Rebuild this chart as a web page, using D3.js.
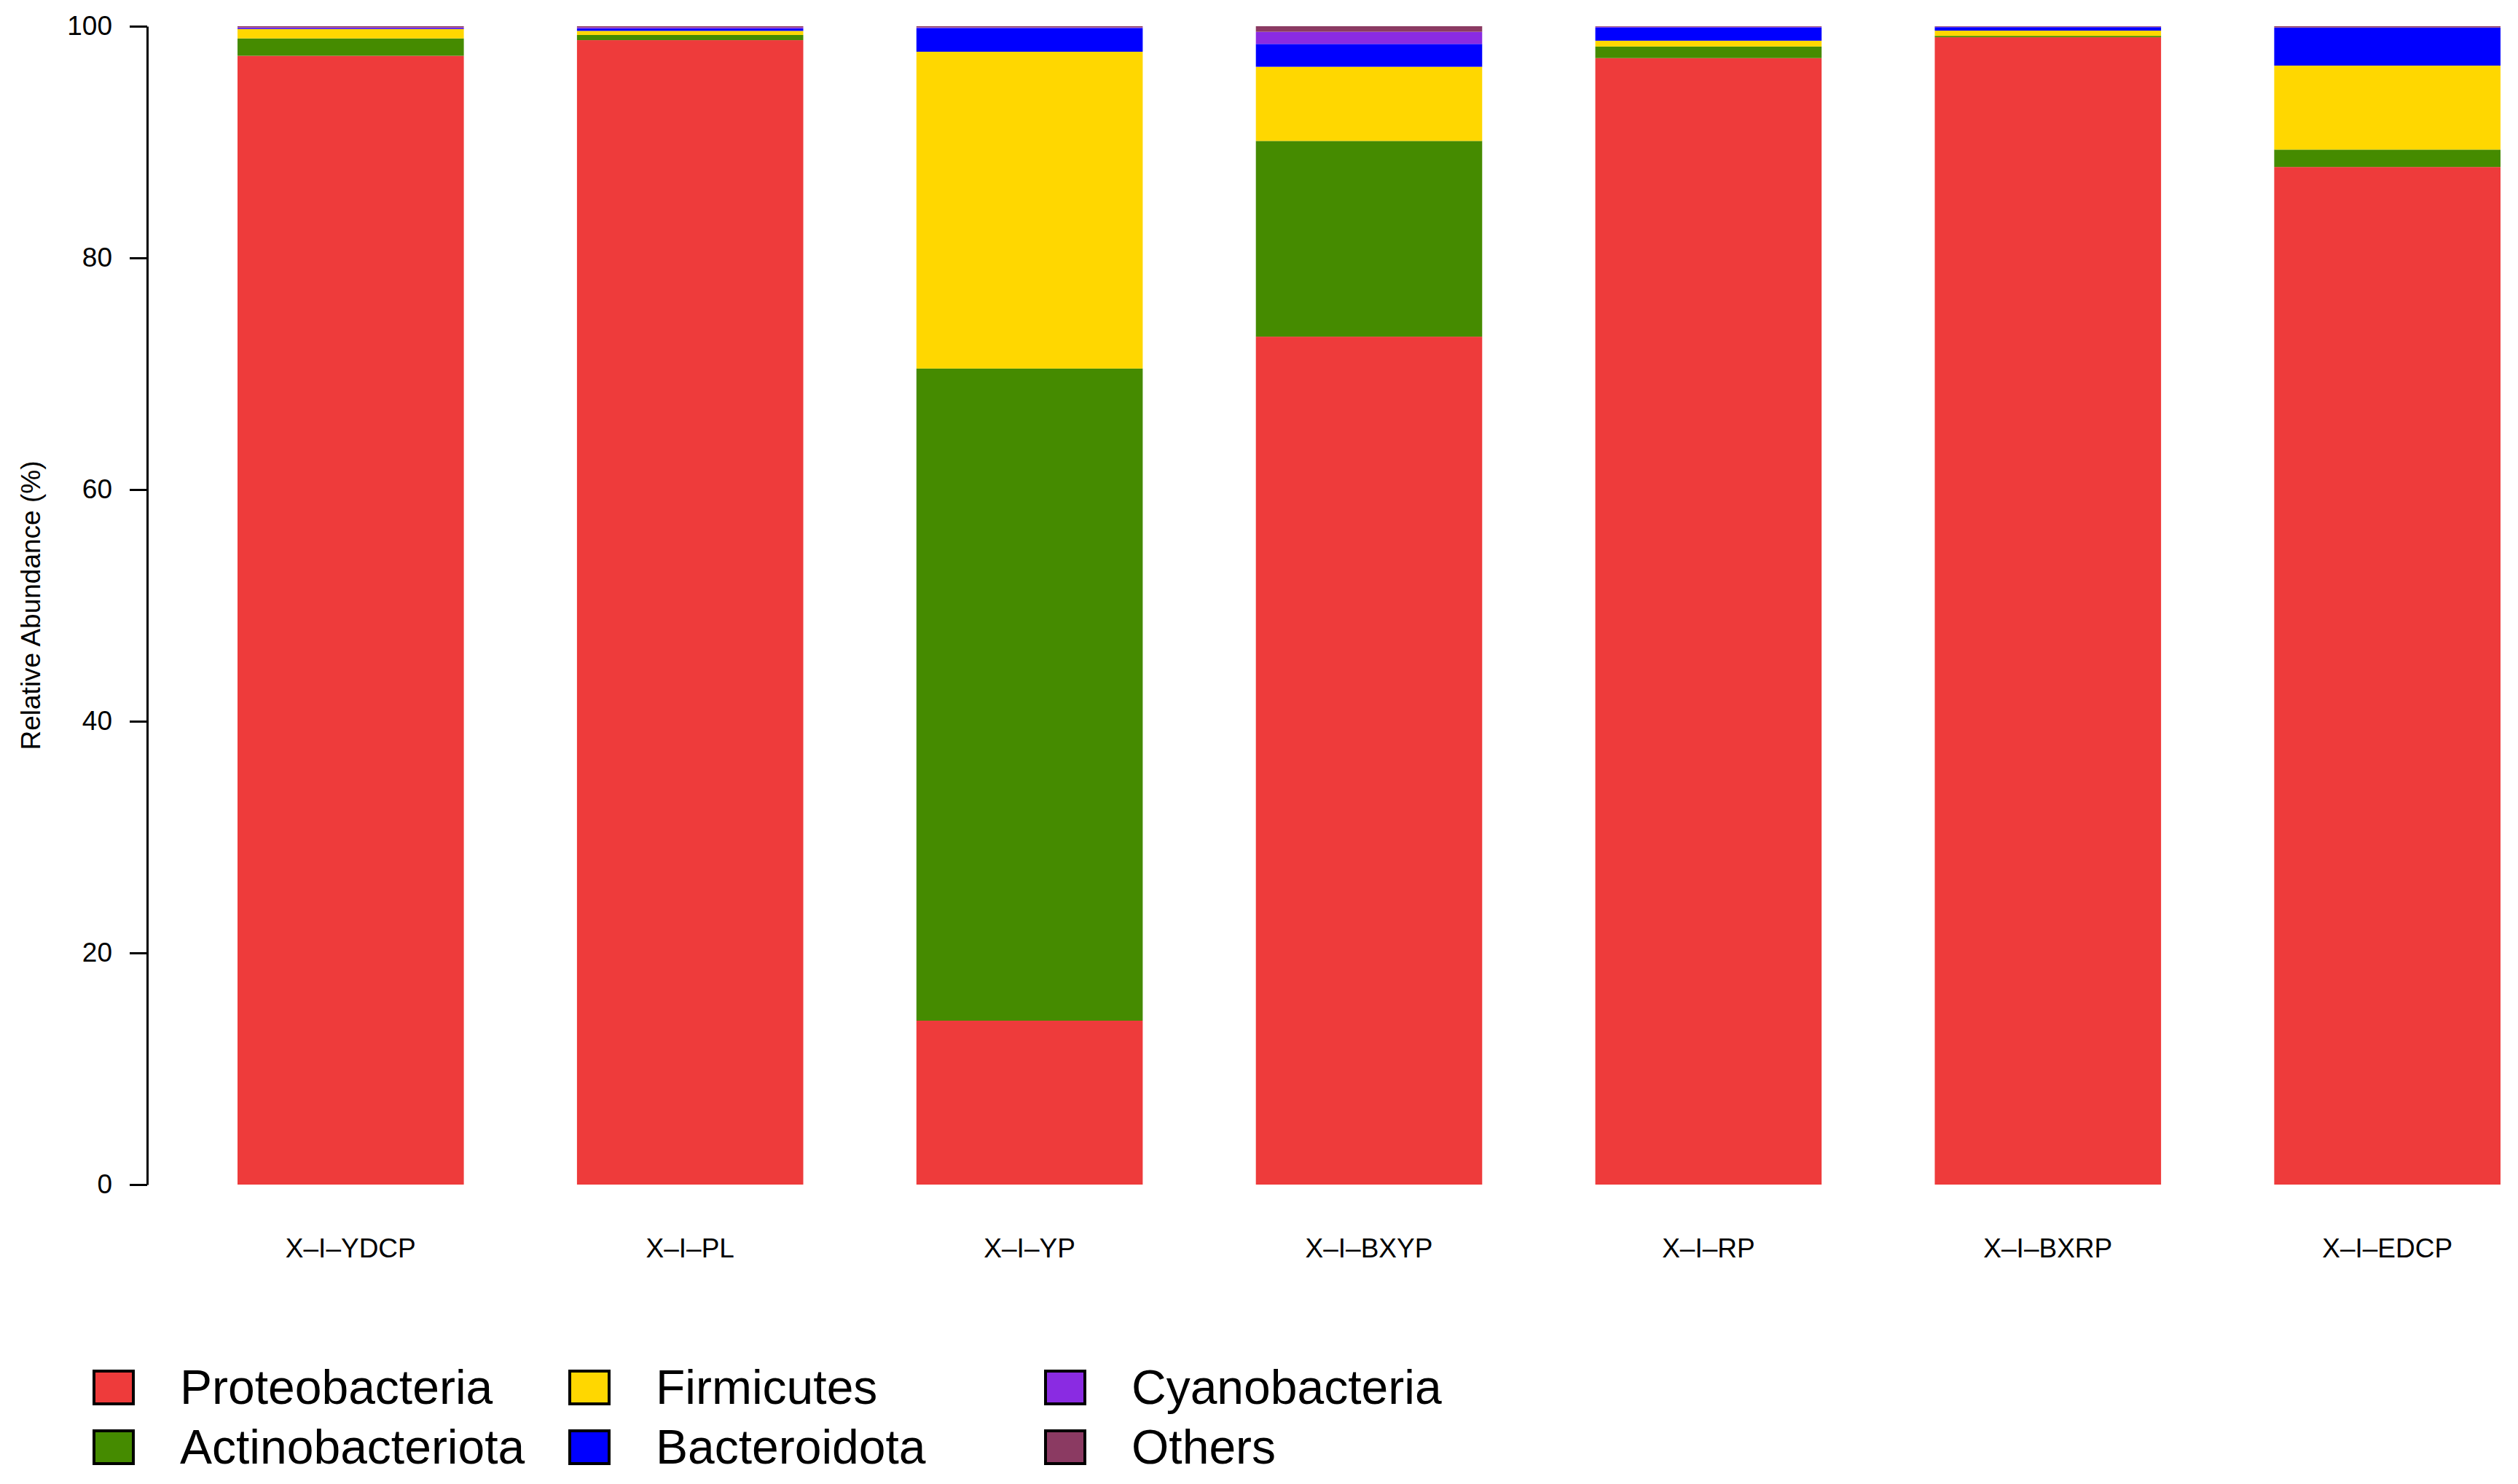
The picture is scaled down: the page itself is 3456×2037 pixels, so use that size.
<!DOCTYPE html>
<html>
<head>
<meta charset="utf-8">
<script src="https://cdn.jsdelivr.net/npm/d3@7"></script>
<style>
  body { margin: 0; background: #fff; }
  svg { display: block; font-family: "Liberation Sans", Arial, sans-serif; }
</style>
</head>
<body>
<svg width="3456" height="2037"></svg>
<script>
// samples and phyla (percent)
var samples = ["X–I–YDCP", "X–I–PL", "X–I–YP", "X–I–BXYP", "X–I–RP", "X–I–BXRP", "X–I–EDCP"]
var phyla = ["Proteobacteria", "Actinobacteriota", "Firmicutes", "Bacteroidota", "Cyanobacteria", "Others"]
var colors = ["#EE3B3B", "#458B00", "#FFD700", "#0000FF", "#8A2BE2", "#8B3A62"]

var proteobacteria   = [97.45, 98.8, 14.15, 73.2, 97.25, 99.05, 87.85]
var actinobacteriota = [1.5, 0.45, 56.3, 16.9, 1.0, 0.12, 1.5]
var firmicutes       = [0.8, 0.35, 27.35, 6.4, 0.5, 0.45, 7.25]
var bacteroidota     = [0.05, 0.2, 2.05, 1.97, 1.15, 0.3, 3.27]
var cyanobacteria    = [0.1, 0.1, 0.05, 1.05, 0.05, 0.03, 0.03]
var others           = [0.1, 0.1, 0.1, 0.48, 0.05, 0.05, 0.1]

var yTicks = [0, 20, 40, 60, 80, 100]

var series = [proteobacteria, actinobacteriota, firmicutes, bacteroidota, cyanobacteria, others]

// table for d3.stack
var rows = samples.map(function(s, i) {
  var row = {sample: s}
  phyla.forEach(function(p, j) { row[p] = series[j][i] })
  return row
})

var svg = d3.select("svg")

var x = d3.scaleBand()
  .domain(samples)
  .range([326, 3432])
  .paddingInner(1 / 3)
  .paddingOuter(0)

var y = d3.scaleLinear()
  .domain([0, 100])
  .range([1626, 36])

var color = d3.scaleOrdinal().domain(phyla).range(colors)

var stacked = d3.stack().keys(phyla)(rows)

// bars
svg.append("g")
  .selectAll("g")
  .data(stacked)
  .join("g")
    .attr("fill", function(d) { return color(d.key) })
  .selectAll("rect")
  .data(function(d) { return d })
  .join("rect")
    .attr("x", function(d) { return x(d.data.sample) })
    .attr("y", function(d) { return y(d[1]) })
    .attr("width", x.bandwidth())
    .attr("height", function(d) { return Math.max(0, y(d[0]) - y(d[1])) })

// y axis
var yAxis = svg.append("g")
  .attr("transform", "translate(202,0)")
  .call(d3.axisLeft(y).tickValues(yTicks).tickSizeInner(24).tickSizeOuter(0).tickPadding(24))
yAxis.select(".domain").attr("stroke-width", 3)
yAxis.selectAll(".tick line").attr("stroke-width", 3)
yAxis.selectAll("text").attr("font-size", 37).attr("fill", "#000")
  .attr("font-family", "'Liberation Sans', Arial, sans-serif")

// x labels
var xAxis = svg.append("g")
  .attr("transform", "translate(0,1626)")
  .call(d3.axisBottom(x).tickSize(0).tickPadding(74))
xAxis.select(".domain").remove()
xAxis.selectAll("text").attr("font-size", 37).attr("fill", "#000")
  .attr("font-family", "'Liberation Sans', Arial, sans-serif")

// y title
svg.append("text")
  .attr("transform", "translate(55,831) rotate(-90)")
  .attr("text-anchor", "middle")
  .attr("font-size", 37)
  .text("Relative Abundance (%)")

// legend, filled by column, two rows
var legend = svg.append("g")
  .selectAll("g")
  .data(phyla)
  .join("g")
    .attr("transform", function(d, i) {
      var col = Math.floor(i / 2), row = i % 2
      return "translate(" + (129 + col * 653) + "," + (1882 + row * 82) + ")"
    })

legend.append("rect")
  .attr("width", 54)
  .attr("height", 45)
  .attr("fill", function(d) { return color(d) })
  .attr("stroke", "#000")
  .attr("stroke-width", 4)

legend.append("text")
  .attr("x", 118)
  .attr("y", 22)
  .attr("dy", "0.35em")
  .attr("font-size", 66)
  .text(function(d) { return d })
</script>
</body>
</html>
